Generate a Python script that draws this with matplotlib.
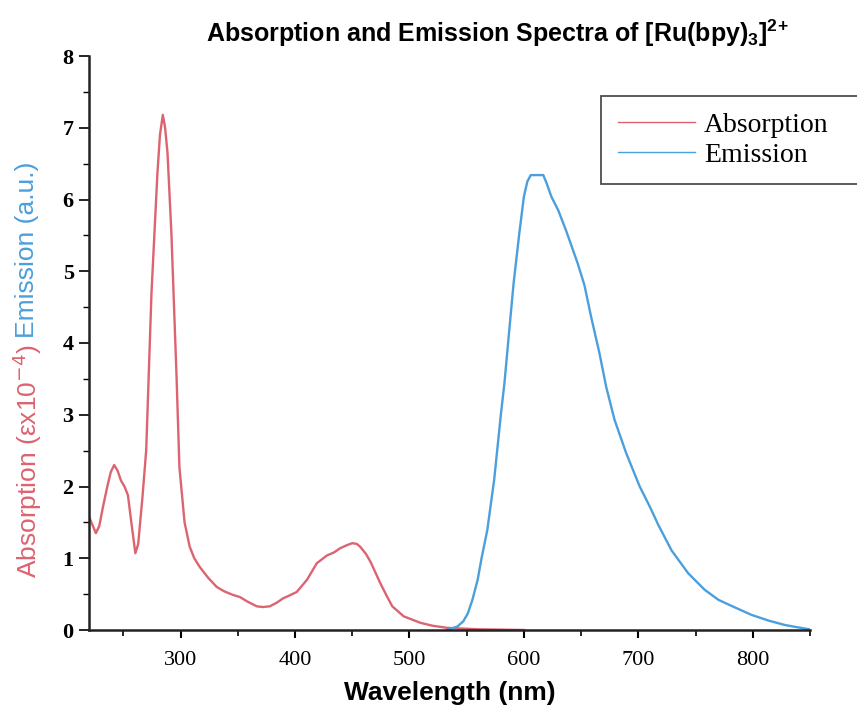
import matplotlib
matplotlib.use("Agg")
import matplotlib.pyplot as plt
from matplotlib.ticker import MultipleLocator

# absorption spectrum (eps x 1e-4)
wl_abs = [220, 226, 229, 232, 236, 239, 242, 245, 248, 251, 254, 257, 260.5, 263,
          266.7, 270, 274.6, 279.8, 282, 284.5, 286.5, 288.6, 292, 296.5, 299,
          303.5, 308, 312, 316.7, 324, 331.6, 338, 345.6, 351.8, 358, 366.6, 372,
          378, 384, 389.5, 395, 401.5, 410.5, 419, 428, 434, 439.5, 445, 450, 454,
          457, 462, 466, 474.6, 480, 485, 495, 509.6, 520, 533, 560, 600]
absorption = [1.58, 1.35, 1.45, 1.70, 2.0, 2.2, 2.30, 2.22, 2.08, 2.0, 1.88, 1.5, 1.07, 1.2,
              1.85, 2.51, 4.70, 6.37, 6.9, 7.18, 7.0, 6.65, 5.53, 3.53, 2.27,
              1.5, 1.16, 1.0, 0.88, 0.73, 0.60, 0.54, 0.49, 0.46, 0.40, 0.33, 0.32,
              0.33, 0.38, 0.44, 0.48, 0.53, 0.70, 0.93, 1.04, 1.08, 1.14, 1.18, 1.21, 1.20,
              1.16, 1.06, 0.95, 0.65, 0.48, 0.33, 0.19, 0.10, 0.06, 0.03, 0.01, 0.0]

# emission spectrum (a.u.)
wl_em = [533, 542, 547, 551, 555, 559.6, 563, 568, 574, 580, 583, 587, 591, 596,
         600, 603, 606, 612, 617, 620, 624, 630, 636.8, 647, 653, 658.8, 666, 671.9,
         679.2, 689.5, 701.2, 710, 717.3, 729, 743.6, 758, 770, 785, 799, 814, 828, 849]
emission = [0.0, 0.05, 0.12, 0.23, 0.42, 0.70, 1.0, 1.39, 2.09, 3.02, 3.44, 4.14, 4.83, 5.53,
            6.04, 6.25, 6.34, 6.34, 6.34, 6.22, 6.04, 5.85, 5.57, 5.11, 4.80, 4.36, 3.86, 3.39,
            2.93, 2.46, 2.0, 1.72, 1.47, 1.11, 0.79, 0.56, 0.42, 0.31, 0.21, 0.13, 0.07, 0.01]

red = "#dc6470"
blue = "#4a9fdc"
serif = "Liberation Serif"
sans = "Liberation Sans"

fig = plt.figure(figsize=(8.57, 7.17), dpi=100)
ax = fig.add_axes([89 / 857, 1 - 630 / 717, (810 - 89) / 857, (630 - 56) / 717])

ax.plot(wl_abs, absorption, color=red, lw=1.7, label="Absorption")
ax.plot(wl_em, emission, color=blue, lw=1.7, label="Emission")

ax.set_xlim(220, 850)
ax.set_ylim(0, 8)
ax.xaxis.set_major_locator(MultipleLocator(100))
ax.xaxis.set_minor_locator(MultipleLocator(50))
ax.yaxis.set_major_locator(MultipleLocator(1))
ax.yaxis.set_minor_locator(MultipleLocator(0.5))

for s in ["top", "right"]:
    ax.spines[s].set_visible(False)
for s in ["left", "bottom"]:
    ax.spines[s].set_linewidth(1.8)
    ax.spines[s].set_color("#222222")

ax.tick_params(axis="x", which="major", direction="out", length=6, width=1.5, pad=9)
ax.tick_params(axis="x", which="minor", direction="out", length=4, width=1.2)
ax.tick_params(axis="y", which="major", direction="out", length=7, width=1.2, pad=4)
ax.tick_params(axis="y", which="minor", direction="out", length=4, width=1.0)
for lab in ax.get_xticklabels():
    lab.set_fontfamily(serif)
    lab.set_fontsize(16)
for lab in ax.get_yticklabels():
    lab.set_fontfamily(serif)
    lab.set_fontsize(16)
    lab.set_fontweight("bold")

ax.set_xlabel("Wavelength (nm)", fontfamily=sans, fontweight="bold", fontsize=19, labelpad=8)

fig.text(497 / 857, 1 - 33 / 717,
         "Absorption and Emission Spectra of [Ru(bpy)$_\\mathregular{3}$]$^\\mathregular{2\\!+}$",
         fontfamily=sans, fontweight="bold", fontsize=18, ha="center", va="center")

# two-coloured y label
t1 = fig.text(27 / 857, 1 - 578 / 717, "Absorption (\u03b5x10$^{-4}$)", rotation=90,
              color=red, fontfamily=sans, fontsize=19, ha="center", va="bottom")
fig.canvas.draw()
bb = t1.get_window_extent()
fig.text(27 / 857, (bb.y1 + 6) / fig.bbox.height, "Emission (a.u.)", rotation=90,
         color=blue, fontfamily=sans, fontsize=19, ha="center", va="bottom")

leg = ax.legend(loc="upper left", bbox_to_anchor=(601 / 857, 1 - 183 / 717, 260 / 857, 87 / 717),
                bbox_transform=fig.transFigure, mode="expand",
                prop={"family": serif, "size": 20},
                frameon=True, fancybox=False, edgecolor="#222222", handlelength=2.8,
                handletextpad=0.3, labelspacing=0.15, borderpad=0.6, borderaxespad=0)
leg.get_frame().set_linewidth(1.3)
for line in leg.get_lines():
    line.set_linewidth(1.0)

fig.savefig("out.png", dpi=100)
